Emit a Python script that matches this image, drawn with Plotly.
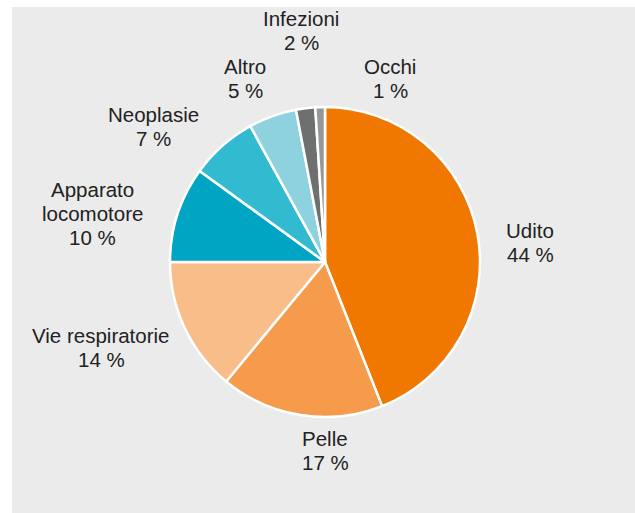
import plotly.graph_objects as go

# Share of cases by category (percent)
categories = ["Udito", "Pelle", "Vie respiratorie", "Apparato locomotore",
              "Neoplasie", "Altro", "Infezioni", "Occhi"]
shares = [44, 17, 14, 10, 7, 5, 2, 1]
name_lines = [["Udito"], ["Pelle"], ["Vie respiratorie"], ["Apparato", "locomotore"],
              ["Neoplasie"], ["Altro"], ["Infezioni"], ["Occhi"]]

colors = ["#f07800", "#f59b4b", "#f8bd88", "#00a5c3",
          "#32bbd0", "#8ed1df", "#6e706f", "#969896"]

# Label block centres in pixels (x, y from top)
label_pos = [(530, 243), (325, 450), (101, 347), (92, 213),
             (153, 126), (245, 79), (301, 31), (390, 78)]

W, H = 635, 513
LINE = 24
cx, cy, r = 325, 262, 155

fig = go.Figure(go.Pie(
    labels=categories,
    values=shares,
    sort=False,
    direction="clockwise",
    rotation=0,
    marker=dict(colors=colors, line=dict(color="white", width=2.5)),
    textinfo="none",
    hoverinfo="label+percent",
    showlegend=False,
    domain=dict(x=[(cx - r) / W, (cx + r) / W],
                y=[(H - cy - r) / H, (H - cy + r) / H]),
))

annotations = []
for lines, v, (lx, ly) in zip(name_lines, shares, label_pos):
    all_lines = lines + [f"{v} %"]
    n = len(all_lines)
    for i, t in enumerate(all_lines):
        y = ly + (i - (n - 1) / 2) * LINE
        annotations.append(dict(
            x=lx / W, y=1 - y / H, xref="paper", yref="paper",
            text=t, showarrow=False, xanchor="center", yanchor="middle",
            font=dict(family="Liberation Sans, Arial, sans-serif", size=20.5, color="#222222"),
        ))

fig.update_layout(
    width=W, height=H,
    margin=dict(l=0, r=0, t=0, b=0),
    paper_bgcolor="white",
    shapes=[dict(type="rect", xref="paper", yref="paper",
                 x0=12 / W, x1=1, y0=0, y1=1 - 7 / H,
                 fillcolor="#ebebeb", line=dict(width=0), layer="below")],
    annotations=annotations,
)

fig.write_html("out.html")
